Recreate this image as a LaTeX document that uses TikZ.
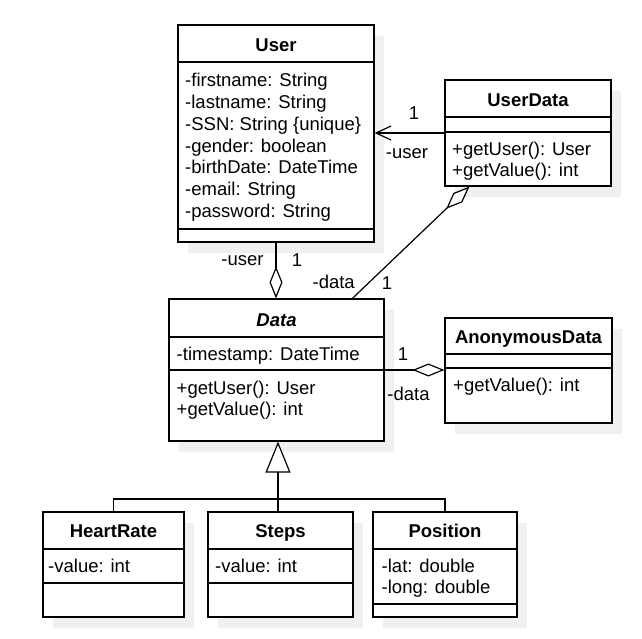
\documentclass[tikz,border=0pt]{standalone}
\usepackage{fontspec}
\setmainfont{Liberation Sans}
\usetikzlibrary{arrows.meta,shadows}
\definecolor{shadowgray}{RGB}{240,240,240}
\begin{document}
\begin{tikzpicture}[x=1pt,y=-1pt,
  cls/.style={draw, line width=1.2pt, fill=white, inner sep=0pt,
    general shadow={fill=shadowgray, shadow xshift=10pt, shadow yshift=-11pt}},
  sep/.style={line width=1.2pt},
  conn/.style={line width=1.2pt},
  agg/.style={conn, -{Diamond[open, fill=white, length=32pt, width=13pt]}},
  assoc/.style={conn, -{Straight Barb[length=15pt, width=14pt]}},
  gen/.style={conn, -{Triangle[open, fill=white, length=31pt, width=25pt]}},
  ttl/.style={anchor=base, inner sep=0pt, font=\fontsize{18.5}{22}\selectfont\bfseries},
  attr/.style={anchor=base west, inner sep=0pt, font=\fontsize{18.5}{22}\selectfont},
  lbl/.style={anchor=base, inner sep=0pt, font=\fontsize{18.5}{22}\selectfont}]
\useasboundingbox[fill=white] (0,0) rectangle (642,639);

% class boxes
\node[cls, minimum width=196pt, minimum height=217pt] (user) at (276,133.5) {};
\node[cls, minimum width=166pt, minimum height=106pt] (userdata) at (528,133) {};
\node[cls, minimum width=215pt, minimum height=142pt] (data) at (276.5,370) {};
\node[cls, minimum width=167pt, minimum height=105pt] (anon) at (528.5,370.5) {};
\node[cls, minimum width=141pt, minimum height=105pt] (hr) at (113.5,564.5) {};
\node[cls, minimum width=145pt, minimum height=105pt] (steps) at (280.5,564.5) {};
\node[cls, minimum width=144pt, minimum height=105pt] (pos) at (445,564.5) {};

% compartments
\draw[sep] (user.west |- 0,62) -- (user.east |- 0,62);
\draw[sep] (user.west |- 0,229) -- (user.east |- 0,229);
\draw[sep] (userdata.west |- 0,117) -- (userdata.east |- 0,117);
\draw[sep] (userdata.west |- 0,132) -- (userdata.east |- 0,132);
\draw[sep] (data.west |- 0,337) -- (data.east |- 0,337);
\draw[sep] (data.west |- 0,370) -- (data.east |- 0,370);
\draw[sep] (anon.west |- 0,354) -- (anon.east |- 0,354);
\draw[sep] (anon.west |- 0,368) -- (anon.east |- 0,368);
\draw[sep] (hr.west |- 0,549) -- (hr.east |- 0,549);
\draw[sep] (hr.west |- 0,583) -- (hr.east |- 0,583);
\draw[sep] (steps.west |- 0,549) -- (steps.east |- 0,549);
\draw[sep] (steps.west |- 0,583) -- (steps.east |- 0,583);
\draw[sep] (pos.west |- 0,549) -- (pos.east |- 0,549);
\draw[sep] (pos.west |- 0,604) -- (pos.east |- 0,604);

% User texts
\node[ttl] (userT) at (276,51.7) {User};
\node[attr] (u1) at (185,86.7) {-firstname: String};
\node[attr] (u2) at (185,108.5) {-lastname: String};
\node[attr] (u3) at (185,130.3) {-SSN: String \{unique\}};
\node[attr] (u4) at (185,152.1) {-gender: boolean};
\node[attr] (u5) at (185,173.9) {-birthDate: DateTime};
\node[attr] (u6) at (185,195.7) {-email: String};
\node[attr] (u7) at (185,217.5) {-password: String};

% UserData texts
\node[ttl] (udT) at (528,106.7) {UserData};
\node[attr] (ud1) at (452,156) {+getUser(): User};
\node[attr] (ud2) at (452,177) {+getValue(): int};

% Data texts
\node[ttl, font=\fontsize{18.5}{22}\selectfont\bfseries\itshape] (dT) at (276.5,326) {Data};
\node[attr] (d1) at (176.5,360) {-timestamp: DateTime};
\node[attr] (d2) at (176.5,394) {+getUser(): User};
\node[attr] (d3) at (176.5,415) {+getValue(): int};

% AnonymousData texts
\node[ttl] (aT) at (528.5,343.3) {AnonymousData};
\node[attr] (a1) at (453,391.7) {+getValue(): int};

% subclasses
\node[ttl] (hrT) at (113.5,537.7) {HeartRate};
\node[attr] (hr1) at (48,572.3) {-value: int};
\node[ttl] (stT) at (280.5,537.7) {Steps};
\node[attr] (st1) at (215,572.3) {-value: int};
\node[ttl] (poT) at (445,537.7) {Position};
\node[attr] (po1) at (381.5,572.3) {-lat: double};
\node[attr] (po2) at (381.5,593.3) {-long: double};

% connectors
\draw[assoc] (userdata.west) -- (userdata.west -| user.east);
\node[lbl] (l1) at (414,120) {1};
\node[lbl] (l2) at (407,159) {-user};

\draw[agg] (user.south) -- (user.south |- data.north);
\node[lbl] (l3) at (242.5,265) {-user};
\node[lbl] (l4) at (297,266) {1};

\coordinate (dtop) at ([xshift=184pt]data.north west);
\coordinate (udbot) at ([xshift=25pt]userdata.south west);
\draw[agg] (dtop) -- (udbot);
\node[lbl] (l5) at (333.7,288.3) {-data};
\node[lbl] (l6) at (387,289) {1};

\draw[agg] (data.west) -- (data.west -| anon.west);
\node[lbl] (l7) at (403,360) {1};
\node[lbl] (l8) at (408.5,400.7) {-data};

\coordinate (hub) at (278,499);
\draw[gen] (hub) -- (hub |- data.south);
\draw[conn] (hr.north) |- (hub) -| (pos.north);
\draw[conn] (hub) -- (hub |- steps.north);
\end{tikzpicture}
\end{document}
